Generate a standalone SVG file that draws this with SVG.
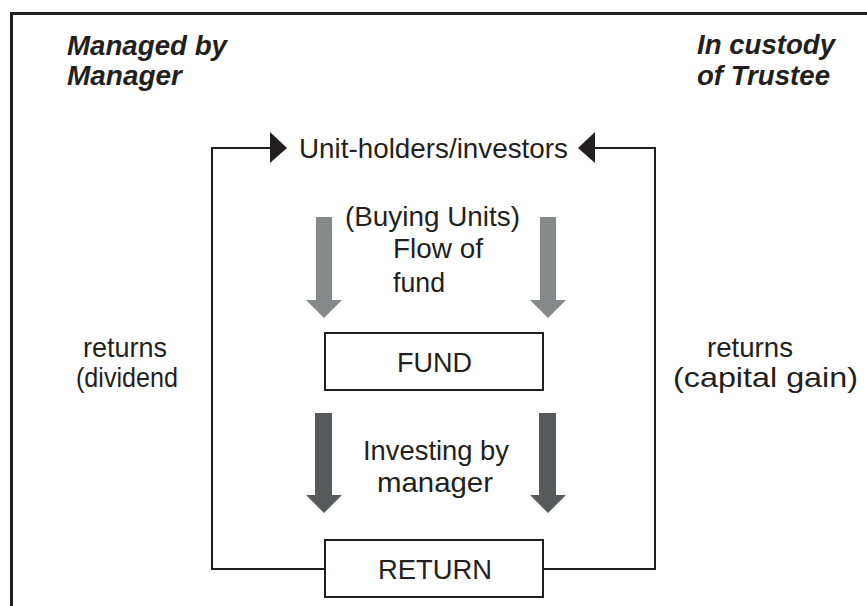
<svg xmlns="http://www.w3.org/2000/svg" width="867" height="606" viewBox="0 0 867 606">
<style>
text{font-family:"Liberation Sans",Arial,Helvetica,sans-serif;fill:#231f20;font-size:28px}
.hd{font-weight:bold;font-style:italic;font-size:28px}
.box{fill:#fff;stroke:#231f20;stroke-width:2}
.ln{fill:none;stroke:#231f20;stroke-width:2}
.ah{fill:#231f20}
.lt{fill:#87888a}
.dk{fill:#58595b}
</style>
<rect width="867" height="606" fill="#fff"/>
<path d="M11.5 606 V13.5 H867" fill="none" stroke="#231f20" stroke-width="3"/>
<g id="headings">
<text class="hd" x="67" y="55" textLength="160" lengthAdjust="spacingAndGlyphs">Managed by</text>
<text class="hd" x="67" y="85" textLength="115" lengthAdjust="spacingAndGlyphs">Manager</text>
<text class="hd" x="697" y="54" textLength="138" lengthAdjust="spacingAndGlyphs">In custody</text>
<text class="hd" x="697" y="85" textLength="133" lengthAdjust="spacingAndGlyphs">of Trustee</text>
</g>
<g id="connectors">
<path class="ln" d="M325 569 H212 V148 H272"/>
<polygon class="ah" points="270,132 287,148 270,163"/>
<path class="ln" d="M543 569 H655 V148 H593"/>
<polygon class="ah" points="595,132 578,148 595,163"/>
<polygon class="lt" points="316,217 332,217 332,300 342,300 324,318 306,300 316,300"/>
<polygon class="lt" points="540,217 556,217 556,300 566,300 548,318 530,300 540,300"/>
<polygon class="dk" points="315,413 332,413 332,495 342,495 324,513 306,495 315,495"/>
<polygon class="dk" points="539,413 556,413 556,495 566,495 548,513 530,495 539,495"/>
</g>
<g id="investors">
<text x="299" y="158" textLength="269" lengthAdjust="spacingAndGlyphs">Unit-holders/investors</text>
</g>
<g id="flow-label">
<text x="345" y="226" textLength="175" lengthAdjust="spacingAndGlyphs">(Buying Units)</text>
<text x="393" y="258" textLength="90" lengthAdjust="spacingAndGlyphs">Flow of</text>
<text x="393" y="292" textLength="52" lengthAdjust="spacingAndGlyphs">fund</text>
</g>
<g id="fund">
<rect class="box" x="325" y="333" width="218" height="57"/>
<text x="397" y="372" textLength="75" lengthAdjust="spacingAndGlyphs">FUND</text>
</g>
<g id="investing-label">
<text x="363" y="460" textLength="146" lengthAdjust="spacingAndGlyphs">Investing by</text>
<text x="377" y="492" textLength="116" lengthAdjust="spacingAndGlyphs">manager</text>
</g>
<g id="return">
<rect class="box" x="325" y="540" width="218" height="57"/>
<text x="378" y="579" textLength="114" lengthAdjust="spacingAndGlyphs">RETURN</text>
</g>
<g id="returns-dividend">
<text x="83" y="357" textLength="84" lengthAdjust="spacingAndGlyphs">returns</text>
<text x="76" y="387" textLength="102" lengthAdjust="spacingAndGlyphs">(dividend</text>
</g>
<g id="returns-capital">
<text x="707" y="357" textLength="86" lengthAdjust="spacingAndGlyphs">returns</text>
<text x="673" y="387" textLength="185" lengthAdjust="spacingAndGlyphs">(capital gain)</text>
</g>
</svg>
